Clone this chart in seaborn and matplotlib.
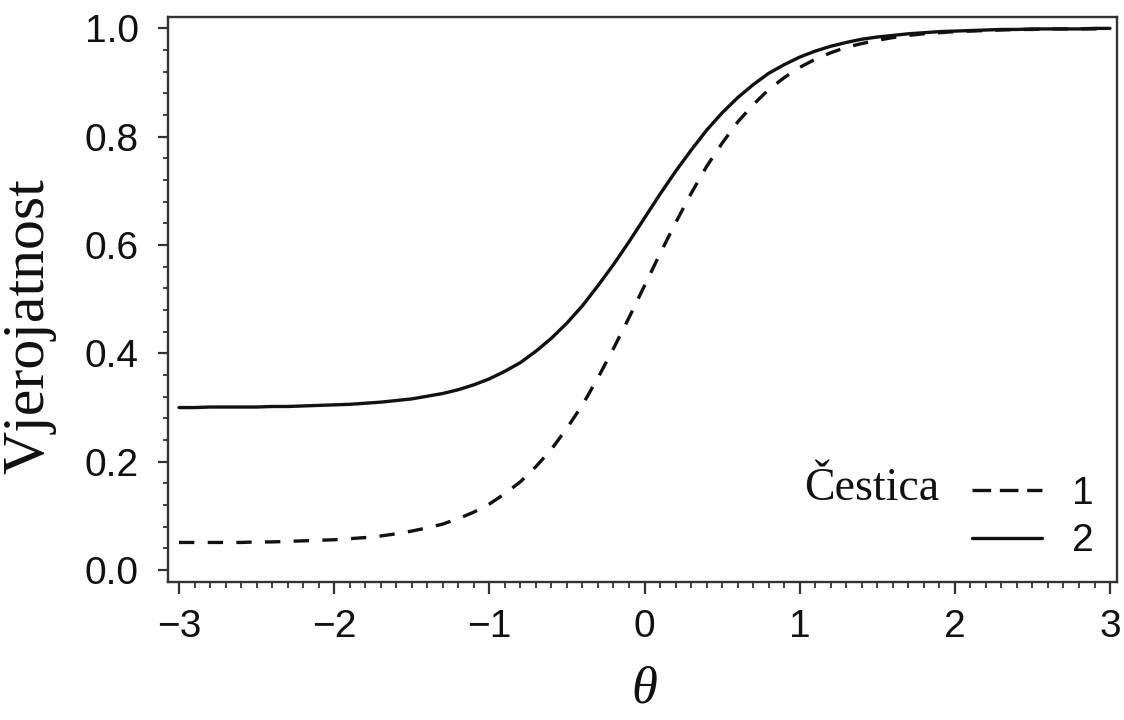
import matplotlib
matplotlib.use("Agg")
import matplotlib.pyplot as plt
from matplotlib.lines import Line2D
from matplotlib.ticker import MultipleLocator
import seaborn as sns
import pandas as pd
import numpy as np

# theta grid (x axis)
theta = [-3.0, -2.9, -2.8, -2.7, -2.6, -2.5, -2.4, -2.3, -2.2, -2.1,
         -2.0, -1.9, -1.8, -1.7, -1.6, -1.5, -1.4, -1.3, -1.2, -1.1,
         -1.0, -0.9, -0.8, -0.7, -0.6, -0.5, -0.4, -0.3, -0.2, -0.1,
         0.0, 0.1, 0.2, 0.3, 0.4, 0.5, 0.6, 0.7, 0.8, 0.9,
         1.0, 1.1, 1.2, 1.3, 1.4, 1.5, 1.6, 1.7, 1.8, 1.9,
         2.0, 2.1, 2.2, 2.3, 2.4, 2.5, 2.6, 2.7, 2.8, 2.9, 3.0]

# Item (Čestica) 1 - dashed curve
item1 = [0.051, 0.051, 0.051, 0.051, 0.051, 0.052, 0.052, 0.053, 0.054, 0.055,
         0.056, 0.058, 0.060, 0.063, 0.067, 0.072, 0.078, 0.085, 0.095, 0.107,
         0.122, 0.141, 0.163, 0.191, 0.223, 0.262, 0.305, 0.355, 0.409, 0.466,
         0.525, 0.584, 0.641, 0.695, 0.745, 0.788, 0.827, 0.859, 0.887, 0.909,
         0.928, 0.943, 0.955, 0.965, 0.972, 0.978, 0.983, 0.987, 0.990, 0.992,
         0.994, 0.995, 0.996, 0.997, 0.998, 0.998, 0.999, 0.999, 0.999, 0.999, 0.999]

# Item (Čestica) 2 - solid curve
item2 = [0.300, 0.300, 0.301, 0.301, 0.301, 0.301, 0.302, 0.302, 0.303, 0.304,
         0.305, 0.306, 0.308, 0.310, 0.313, 0.316, 0.321, 0.326, 0.333, 0.342,
         0.353, 0.367, 0.383, 0.404, 0.428, 0.456, 0.488, 0.525, 0.564, 0.606,
         0.650, 0.694, 0.736, 0.775, 0.812, 0.844, 0.872, 0.896, 0.917, 0.933,
         0.947, 0.958, 0.967, 0.974, 0.980, 0.984, 0.987, 0.990, 0.992, 0.994,
         0.995, 0.996, 0.997, 0.998, 0.998, 0.999, 0.999, 0.999, 0.999, 1.000, 1.000]

item_labels = ["1", "2"]
x_ticks = [-3, -2, -1, 0, 1, 2, 3]
y_ticks = [0.0, 0.2, 0.4, 0.6, 0.8, 1.0]

df = pd.DataFrame({
    "theta": theta * 2,
    "p": item1 + item2,
    "Čestica": [item_labels[0]] * len(theta) + [item_labels[1]] * len(theta),
})

sns.set_style("ticks")
plt.rcParams["font.family"] = ["Liberation Sans", "DejaVu Sans"]

fig = plt.figure(figsize=(11.24, 7.2), dpi=100)
ax = fig.add_axes([168 / 1124, 1 - 582 / 720, (1117 - 168) / 1124, (582 - 17) / 720])

LW = 2.4
dash = (4.6, 4.0)
ink = "#111111"
sns.lineplot(data=df, x="theta", y="p", style="Čestica",
             dashes={"1": dash, "2": ""}, color=ink, linewidth=LW,
             legend=False, ax=ax)

ax.set_xlim(-3.071, 3.045)
ax.set_ylim(-0.022, 1.021)
ax.set_xticks(x_ticks)
ax.set_xticklabels([f"{t:d}".replace("-", "\u2212") for t in x_ticks])
ax.set_yticks(y_ticks)
ax.set_yticklabels([f"{t:.1f}" for t in y_ticks])
ax.xaxis.set_minor_locator(MultipleLocator(0.1))
ax.yaxis.set_minor_locator(MultipleLocator(0.04))

spine_color = "#333333"
for s in ax.spines.values():
    s.set_visible(True)
    s.set_linewidth(1.7)
    s.set_color(spine_color)

ax.tick_params(axis="both", which="major", labelsize=28, color=spine_color,
               width=1.6, labelcolor=ink)
ax.tick_params(axis="y", which="major", length=7.2, pad=14)
ax.tick_params(axis="y", which="minor", length=3.6, width=1.3, color=spine_color)
ax.tick_params(axis="x", which="major", length=8.6, pad=11)
ax.tick_params(axis="x", which="minor", length=4.3, width=1.3, color=spine_color)

serif = ["Liberation Serif", "DejaVu Serif"]
ax.set_xlabel("θ", fontsize=38, family=serif, style="italic", color=ink)
ax.xaxis.set_label_coords(0.502, -0.148)
ax.set_ylabel("Vjerojatnost", fontsize=43, family=serif, color=ink)
ax.yaxis.set_label_coords(-0.118, 0.453)

handles = [
    Line2D([], [], color=ink, linewidth=LW, dashes=(5.6, 2.6)),
    Line2D([], [], color=ink, linewidth=LW),
]
leg = ax.legend(handles, item_labels, loc="lower right",
                bbox_to_anchor=(0.975, 0.04), frameon=False, fontsize=28,
                handlelength=1.8, handletextpad=0.75, labelspacing=0.3,
                borderaxespad=0, borderpad=0)
for t in leg.get_texts():
    t.set_color(ink)

ax.text(0.8126, 0.165, "Čestica", transform=ax.transAxes, ha="right",
        va="center", fontsize=33, family=serif, color=ink)

fig.savefig("out.png", dpi=100, facecolor="white")
